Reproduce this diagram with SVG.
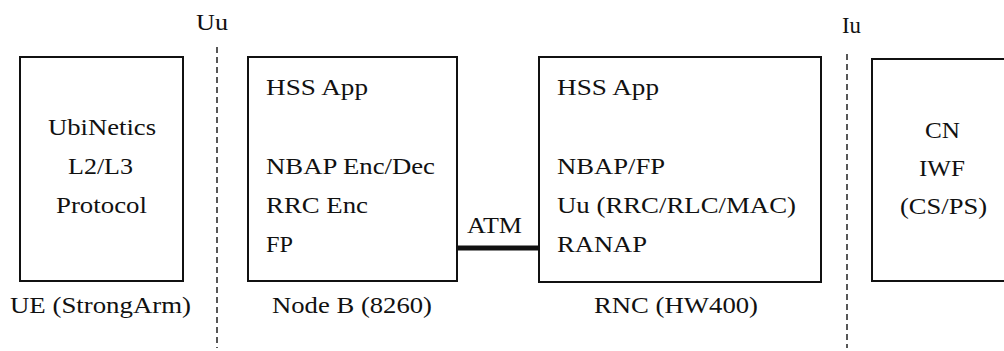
<svg xmlns="http://www.w3.org/2000/svg" width="1004" height="351" viewBox="0 0 1004 351" font-family="Liberation Serif, Times New Roman, serif" font-size="23">
  <style>
    .box { fill: #ffffff; stroke: #111111; stroke-width: 2; }
    .t { fill: #111111; }
    .iface { fill: none; stroke: #111111; stroke-width: 1.4; stroke-dasharray: 6 4; }
    .link { fill: none; stroke: #111111; stroke-width: 5; }
  </style>
  <rect width="1004" height="351" fill="#ffffff"/>

  <!-- interface boundaries -->
  <g id="interfaces">
    <line class="iface" x1="217" y1="47" x2="217" y2="348"/>
    <text class="t" x="196" y="30" textLength="32" lengthAdjust="spacingAndGlyphs">Uu</text>
    <line class="iface" x1="847" y1="54" x2="847" y2="348"/>
    <text class="t" x="842" y="33" textLength="19" lengthAdjust="spacingAndGlyphs">Iu</text>
  </g>

  <!-- user equipment -->
  <g id="ue">
    <rect class="box" x="20" y="57" width="163" height="224"/>
    <text class="t" x="48" y="135" textLength="108" lengthAdjust="spacingAndGlyphs">UbiNetics</text>
    <text class="t" x="68" y="174" textLength="65" lengthAdjust="spacingAndGlyphs">L2/L3</text>
    <text class="t" x="56" y="213" textLength="91" lengthAdjust="spacingAndGlyphs">Protocol</text>
    <text class="t" x="10" y="313" textLength="181" lengthAdjust="spacingAndGlyphs">UE (StrongArm)</text>
  </g>

  <!-- base station -->
  <g id="node-b">
    <rect class="box" x="248" y="57" width="209" height="224"/>
    <text class="t" x="266" y="95" textLength="102" lengthAdjust="spacingAndGlyphs">HSS App</text>
    <text class="t" x="266" y="174" textLength="169" lengthAdjust="spacingAndGlyphs">NBAP Enc/Dec</text>
    <text class="t" x="266" y="213" textLength="102" lengthAdjust="spacingAndGlyphs">RRC Enc</text>
    <text class="t" x="266" y="252" textLength="27" lengthAdjust="spacingAndGlyphs">FP</text>
    <text class="t" x="272" y="313" textLength="160" lengthAdjust="spacingAndGlyphs">Node B (8260)</text>
  </g>

  <!-- radio network controller -->
  <g id="rnc">
    <rect class="box" x="539" y="57" width="282" height="225"/>
    <text class="t" x="557" y="95" textLength="102" lengthAdjust="spacingAndGlyphs">HSS App</text>
    <text class="t" x="557" y="174" textLength="108" lengthAdjust="spacingAndGlyphs">NBAP/FP</text>
    <text class="t" x="557" y="213" textLength="239" lengthAdjust="spacingAndGlyphs">Uu (RRC/RLC/MAC)</text>
    <text class="t" x="557" y="252" textLength="90" lengthAdjust="spacingAndGlyphs">RANAP</text>
    <text class="t" x="594" y="313" textLength="164" lengthAdjust="spacingAndGlyphs">RNC (HW400)</text>
  </g>

  <!-- core network -->
  <g id="cn">
    <rect class="box" x="872" y="59" width="150" height="222"/>
    <text class="t" x="925" y="138" textLength="35" lengthAdjust="spacingAndGlyphs">CN</text>
    <text class="t" x="919" y="176" textLength="46" lengthAdjust="spacingAndGlyphs">IWF</text>
    <text class="t" x="900" y="214" textLength="87" lengthAdjust="spacingAndGlyphs">(CS/PS)</text>
  </g>

  <!-- connectors -->
  <g id="connectors">
    <line class="link" x1="457" y1="248" x2="539" y2="248"/>
    <text class="t" x="467" y="233" textLength="55" lengthAdjust="spacingAndGlyphs">ATM</text>
  </g>
</svg>
